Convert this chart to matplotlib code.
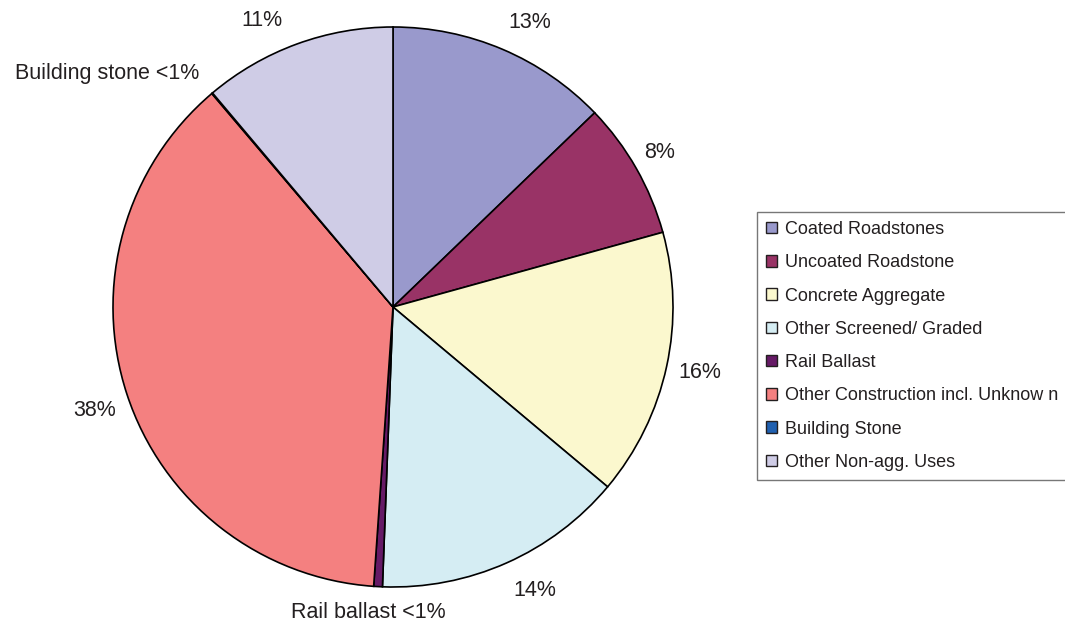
import matplotlib
matplotlib.use("Agg")
import matplotlib.pyplot as plt
from matplotlib.patches import Patch

categories = ["Coated Roadstones", "Uncoated Roadstone", "Concrete Aggregate",
              "Other Screened/ Graded", "Rail Ballast",
              "Other Construction incl. Unknow n", "Building Stone",
              "Other Non-agg. Uses"]
values = [12.8, 7.9, 15.4, 14.5, 0.5, 37.7, 0.05, 11.15]
colors = ["#9999CC", "#993366", "#FBF8CE", "#D5EDF3", "#661A66",
          "#F48080", "#2060B0", "#CFCCE6"]
slice_labels = ["13%", "8%", "16%", "14%", "Rail ballast <1%", "38%",
                "Building stone <1%", "11%"]
label_pos = [(530, 22), (660, 153), (700, 372), (535, 590), (368, 612),
             (95, 410), (107, 73), (262, 20)]

W, H = 1065, 626
fig = plt.figure(figsize=(W / 100, H / 100), dpi=100)
ax = fig.add_axes([0, 0, 1, 1])

# pie drawn in y-down coords: counterclock=True becomes visual clockwise
ax.pie(values, colors=colors, startangle=-90, counterclock=True,
       center=(393, 307), radius=280, frame=True,
       wedgeprops=dict(edgecolor="black", linewidth=1.2))
ax.set_xlim(0, W)
ax.set_ylim(H, 0)
ax.set_aspect("auto")
ax.axis("off")

for lab, (x, y) in zip(slice_labels, label_pos):
    ax.text(x, y, lab, ha="center", va="center", fontsize=15.5,
            family="Liberation Sans", color="#231F20")

handles = [Patch(facecolor=c, edgecolor="#231F20", linewidth=1.0) for c in colors]
leg = fig.legend(handles, categories, loc="upper left",
                 bbox_to_anchor=(757 / W, 1 - 212 / H), borderaxespad=0,
                 fancybox=False, frameon=True, edgecolor="#555555",
                 prop=dict(family="Liberation Sans", size=13),
                 handlelength=0.6, handleheight=0.6, handletextpad=0.45,
                 labelspacing=0.9, borderpad=0.5)
leg.get_frame().set_linewidth(1.0)
for t in leg.get_texts():
    t.set_color("#231F20")

fig.savefig("out.png", dpi=100)
